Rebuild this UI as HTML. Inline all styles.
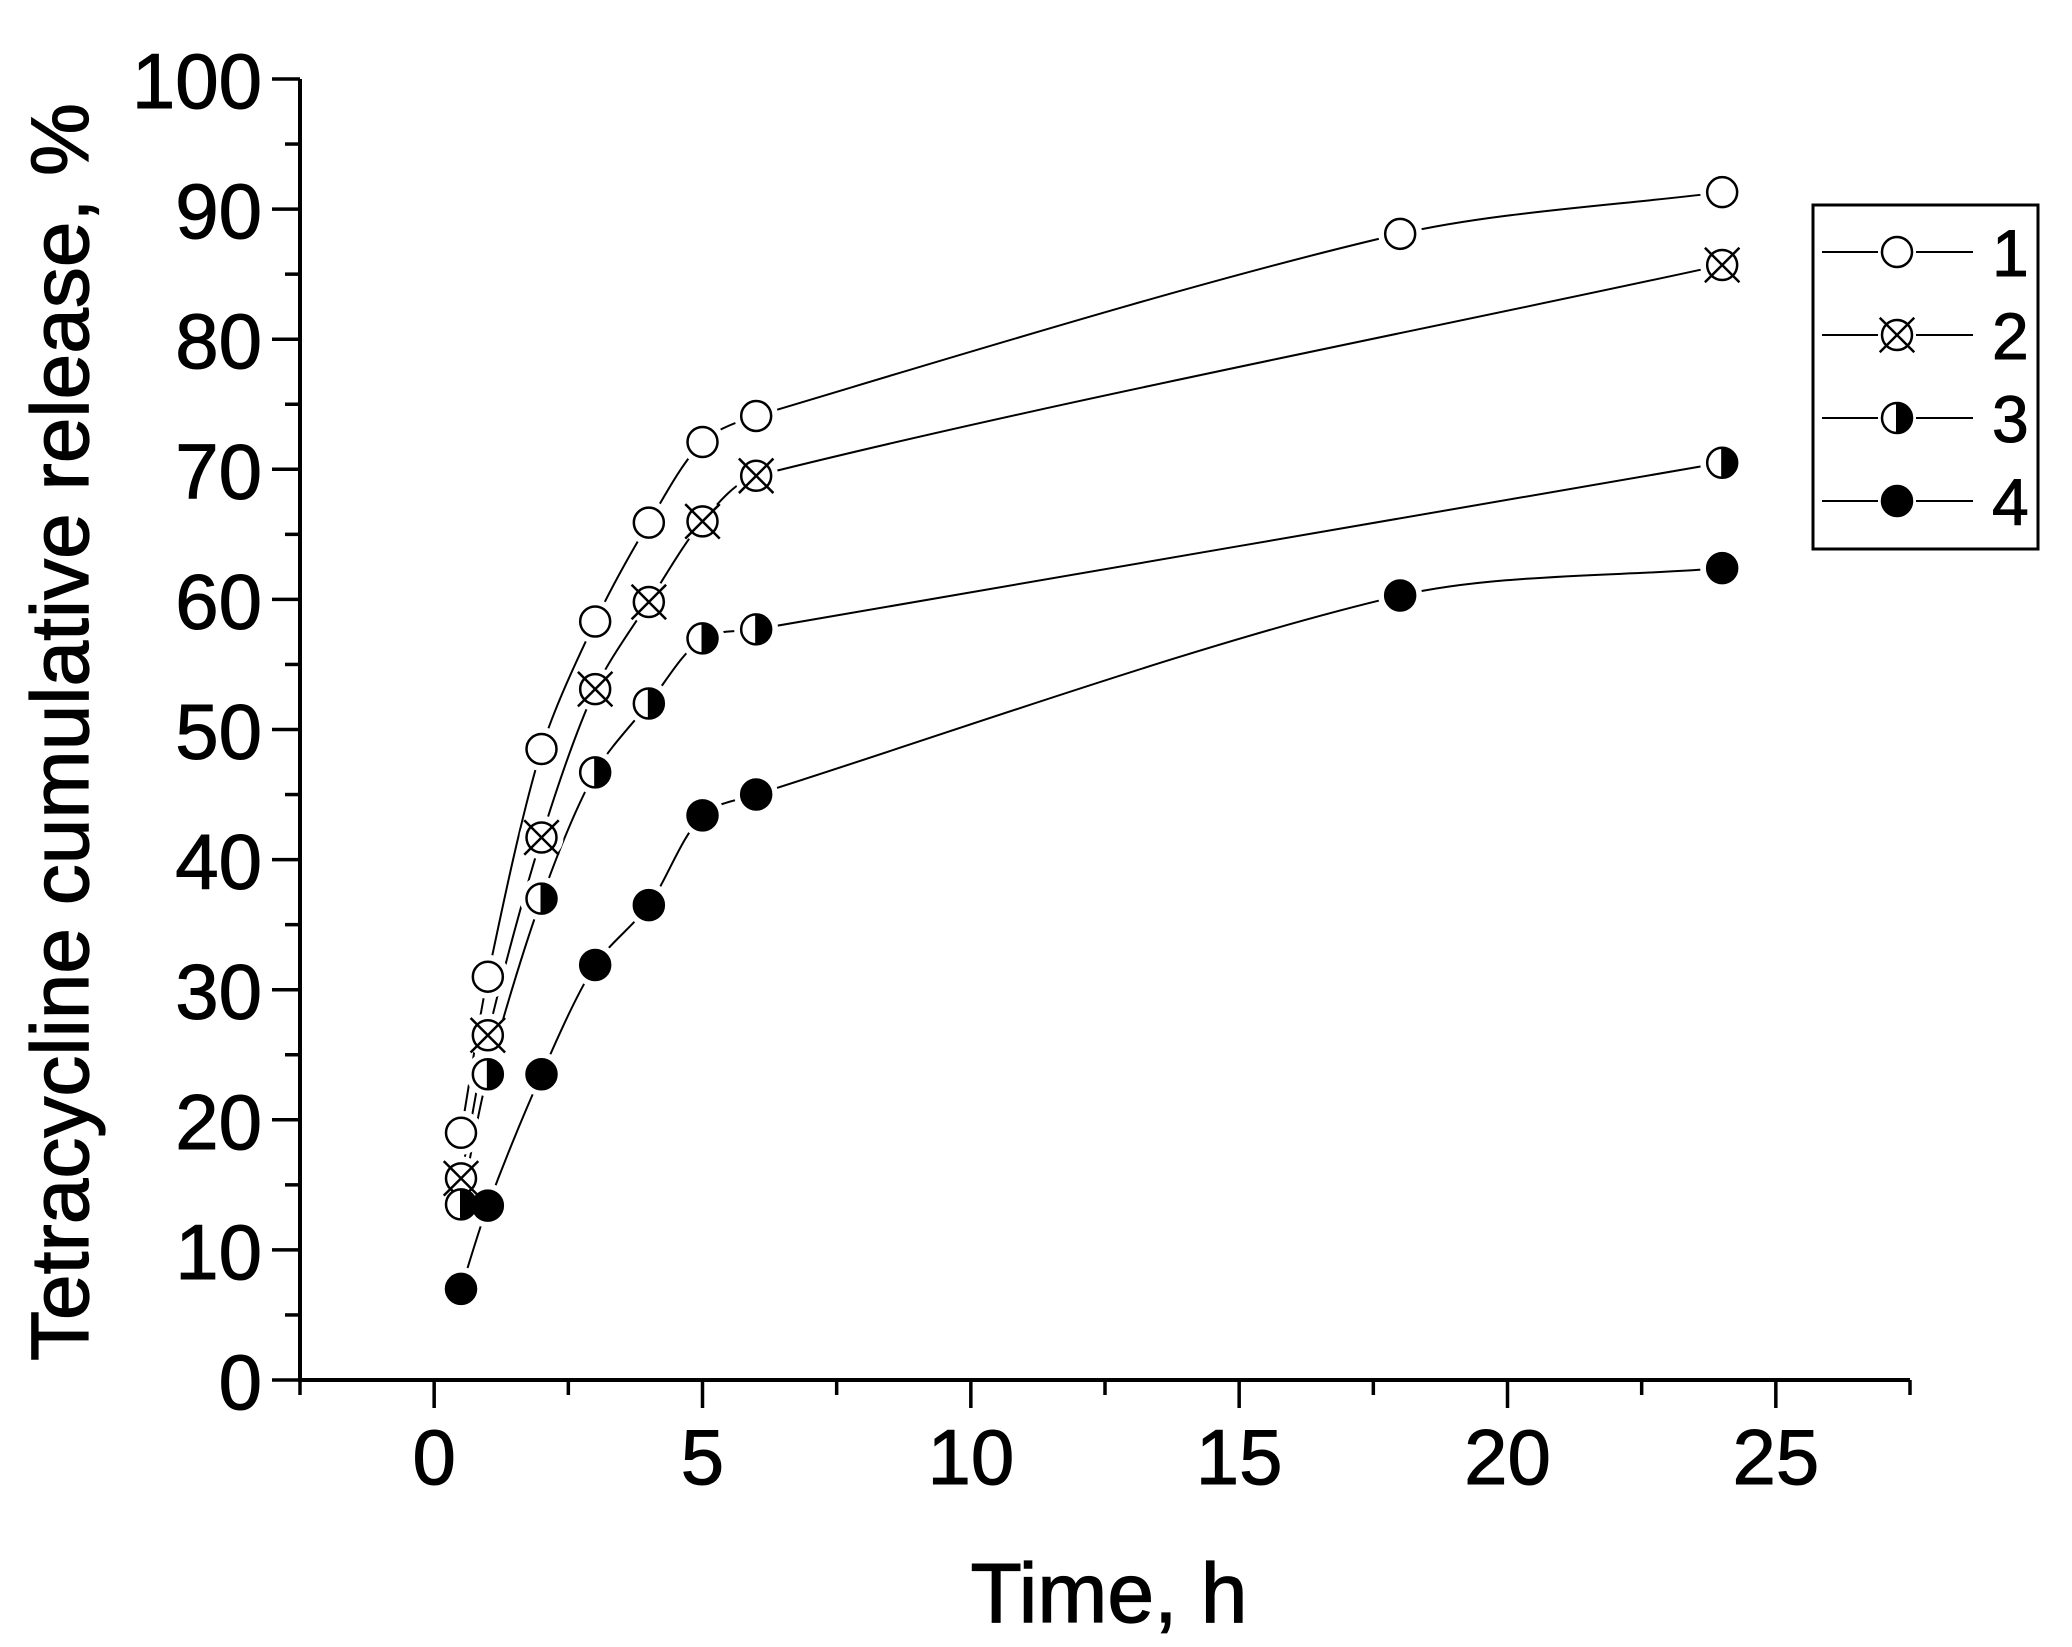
<!DOCTYPE html>
<html><head><meta charset="utf-8"><style>
html,body{margin:0;padding:0;background:#fff}
svg{display:block}
text{font-family:"Liberation Sans",Arial,sans-serif;fill:#000}
</style></head><body>
<svg id="chart" width="2072" height="1647" viewBox="0 0 2072 1647" xmlns="http://www.w3.org/2000/svg">
<g id="axes"></g>
<g id="series"></g>
<g id="legend"></g>
<text x="1109" y="1622" font-size="84" text-anchor="middle" stroke="#000" stroke-width="1.2">Time, h</text>
<text transform="translate(88,732) rotate(-90)" font-size="82" text-anchor="middle" stroke="#000" stroke-width="1.2">Tetracycline cumulative release, %</text>
</svg>
<script>
const xTicks = [0, 5, 10, 15, 20, 25];
const yTicks = [0, 10, 20, 30, 40, 50, 60, 70, 80, 90, 100];
const seriesNames = ["1", "2", "3", "4"];
const t1 = [0.5, 1, 2, 3, 4, 5, 6, 18, 24];
const v1 = [19, 31, 48.5, 58.3, 65.9, 72.1, 74.1, 88.1, 91.3];
const t2 = [0.5, 1, 2, 3, 4, 5, 6, 24];
const v2 = [15.5, 26.5, 41.7, 53.1, 59.8, 66, 69.5, 85.7];
const t3 = [0.5, 1, 2, 3, 4, 5, 6, 24];
const v3 = [13.5, 23.5, 37, 46.7, 52, 57, 57.7, 70.5];
const t4 = [0.5, 1, 2, 3, 4, 5, 6, 18, 24];
const v4 = [7, 13.4, 23.5, 31.9, 36.5, 43.4, 45, 60.3, 62.4];

const NS = "http://www.w3.org/2000/svg";
const X0 = 300, X1 = 1910, Y0 = 1380, Y1 = 79;
const xmin = -2.5, xmax = 27.5, ymin = 0, ymax = 100;
const sx = v => X0 + (v - xmin) / (xmax - xmin) * (X1 - X0);
const sy = v => Y0 - (v - ymin) / (ymax - ymin) * (Y0 - Y1);
function mk(tag, attrs, parent) {
  const e = document.createElementNS(NS, tag);
  for (const k in attrs) e.setAttribute(k, attrs[k]);
  parent.appendChild(e);
  return e;
}
const axes = document.getElementById('axes');
let e;
e = mk('line', {x1: X0, y1: Y0, x2: X1, y2: Y0, stroke: '#000', 'stroke-width': 4}, axes);


e = mk('line', {x1: X0, y1: Y0 + 2, x2: X0, y2: Y1, stroke: '#000', 'stroke-width': 4}, axes);


for (let v = xmin; v <= xmax + 0.01; v += 2.5) {
  const major = xTicks.includes(v);
  e = mk('line', {x1: sx(v), y1: Y0, x2: sx(v), y2: Y0 + (major ? 28 : 15), stroke: '#000', 'stroke-width': 3.5}, axes);
  
  
}
xTicks.forEach(v => {
  e = mk('text', {x: sx(v), y: Y0 + 104, 'font-size': 78, 'text-anchor': 'middle', stroke: '#000', 'stroke-width': 1}, axes);
  e.textContent = v;
  
  
});
for (let v = ymin; v <= ymax + 0.01; v += 5) {
  const major = yTicks.includes(v);
  e = mk('line', {x1: X0, y1: sy(v), x2: X0 - (major ? 28 : 15), y2: sy(v), stroke: '#000', 'stroke-width': 3.5}, axes);
  
  
}
yTicks.forEach(v => {
  e = mk('text', {x: X0 - 38, y: sy(v) + 29, 'font-size': 78, 'text-anchor': 'end', stroke: '#000', 'stroke-width': 1}, axes);
  e.textContent = v;
  
  
});

const R = 15;
function marker(kind, cx, cy, parent) {
  const g = mk('g', {}, parent);
  if (kind === 3) {
    mk('circle', {cx, cy, r: R, fill: '#fff', stroke: '#000', 'stroke-width': 2.5}, g);
    mk('path', {d: `M${cx},${cy - R} A${R},${R} 0 0 1 ${cx},${cy + R} Z`, fill: '#000'}, g);
    mk('line', {x1: cx, y1: cy - R, x2: cx, y2: cy + R, stroke: '#000', 'stroke-width': 2}, g);
  } else {
    mk('circle', {cx, cy, r: R, fill: kind === 4 ? '#000' : '#fff', stroke: '#000', 'stroke-width': 2.5}, g);
  }
  if (kind === 2) {
    const d = R * 1.15;
    mk('line', {x1: cx - d, y1: cy - d, x2: cx + d, y2: cy + d, stroke: '#000', 'stroke-width': 2.5}, g);
    mk('line', {x1: cx - d, y1: cy + d, x2: cx + d, y2: cy - d, stroke: '#000', 'stroke-width': 2.5}, g);
  }
  return g;
}
const allT = [t1, t2, t3, t4], allV = [v1, v2, v3, v4];
const sg = document.getElementById('series');
const lineLayer = mk('g', {}, sg);
const maskLayer = mk('g', {}, sg);
const markLayer = mk('g', {}, sg);
allT.forEach((ts, si) => {
  const vs = allV[si];
  const pts = ts.map((t, i) => [sx(t), sy(vs[i])]);
  let d = `M${pts[0][0]},${pts[0][1]}`;
  for (let i = 0; i < pts.length - 1; i++) {
    const p0 = pts[Math.max(0, i - 1)], p1 = pts[i], p2 = pts[i + 1], p3 = pts[Math.min(pts.length - 1, i + 2)];
    const seg = Math.hypot(p2[0] - p1[0], p2[1] - p1[1]);
    const t1n = Math.hypot(p2[0] - p0[0], p2[1] - p0[1]) || 1;
    const t2n = Math.hypot(p3[0] - p1[0], p3[1] - p1[1]) || 1;
    const k = 0.3;
    const c1 = [p1[0] + (p2[0] - p0[0]) / t1n * seg * k, p1[1] + (p2[1] - p0[1]) / t1n * seg * k];
    const c2 = [p2[0] - (p3[0] - p1[0]) / t2n * seg * k, p2[1] - (p3[1] - p1[1]) / t2n * seg * k];
    d += ` C${c1[0]},${c1[1]} ${c2[0]},${c2[1]} ${p2[0]},${p2[1]}`;
  }
  e = mk('path', {d, fill: 'none', stroke: '#000', 'stroke-width': 2}, lineLayer);
  
  
  pts.forEach(p => {
    mk('circle', {cx: p[0], cy: p[1], r: R + 7, fill: '#fff'}, maskLayer);
  });
  const grp = mk('g', {}, markLayer);
  
  
  pts.forEach(p => {
    const m = marker(si + 1, p[0], p[1], grp);
    
    
  });
});

const lg = document.getElementById('legend');
e = mk('rect', {x: 1813, y: 205, width: 225, height: 344, fill: '#fff', stroke: '#000', 'stroke-width': 3}, lg);


seriesNames.forEach((n, i) => {
  const y = 252 + i * 83;
  const g = mk('g', {}, lg);
  
  
  mk('line', {x1: 1822, y1: y, x2: 1878, y2: y, stroke: '#000', 'stroke-width': 2}, g);
  mk('line', {x1: 1916, y1: y, x2: 1973, y2: y, stroke: '#000', 'stroke-width': 2}, g);
  marker(i + 1, 1897, y, g);
  const t = mk('text', {x: 1992, y: y + 24, 'font-size': 66, stroke: '#000', 'stroke-width': 1}, g);
  t.textContent = n;
});
</script>
</body></html>
